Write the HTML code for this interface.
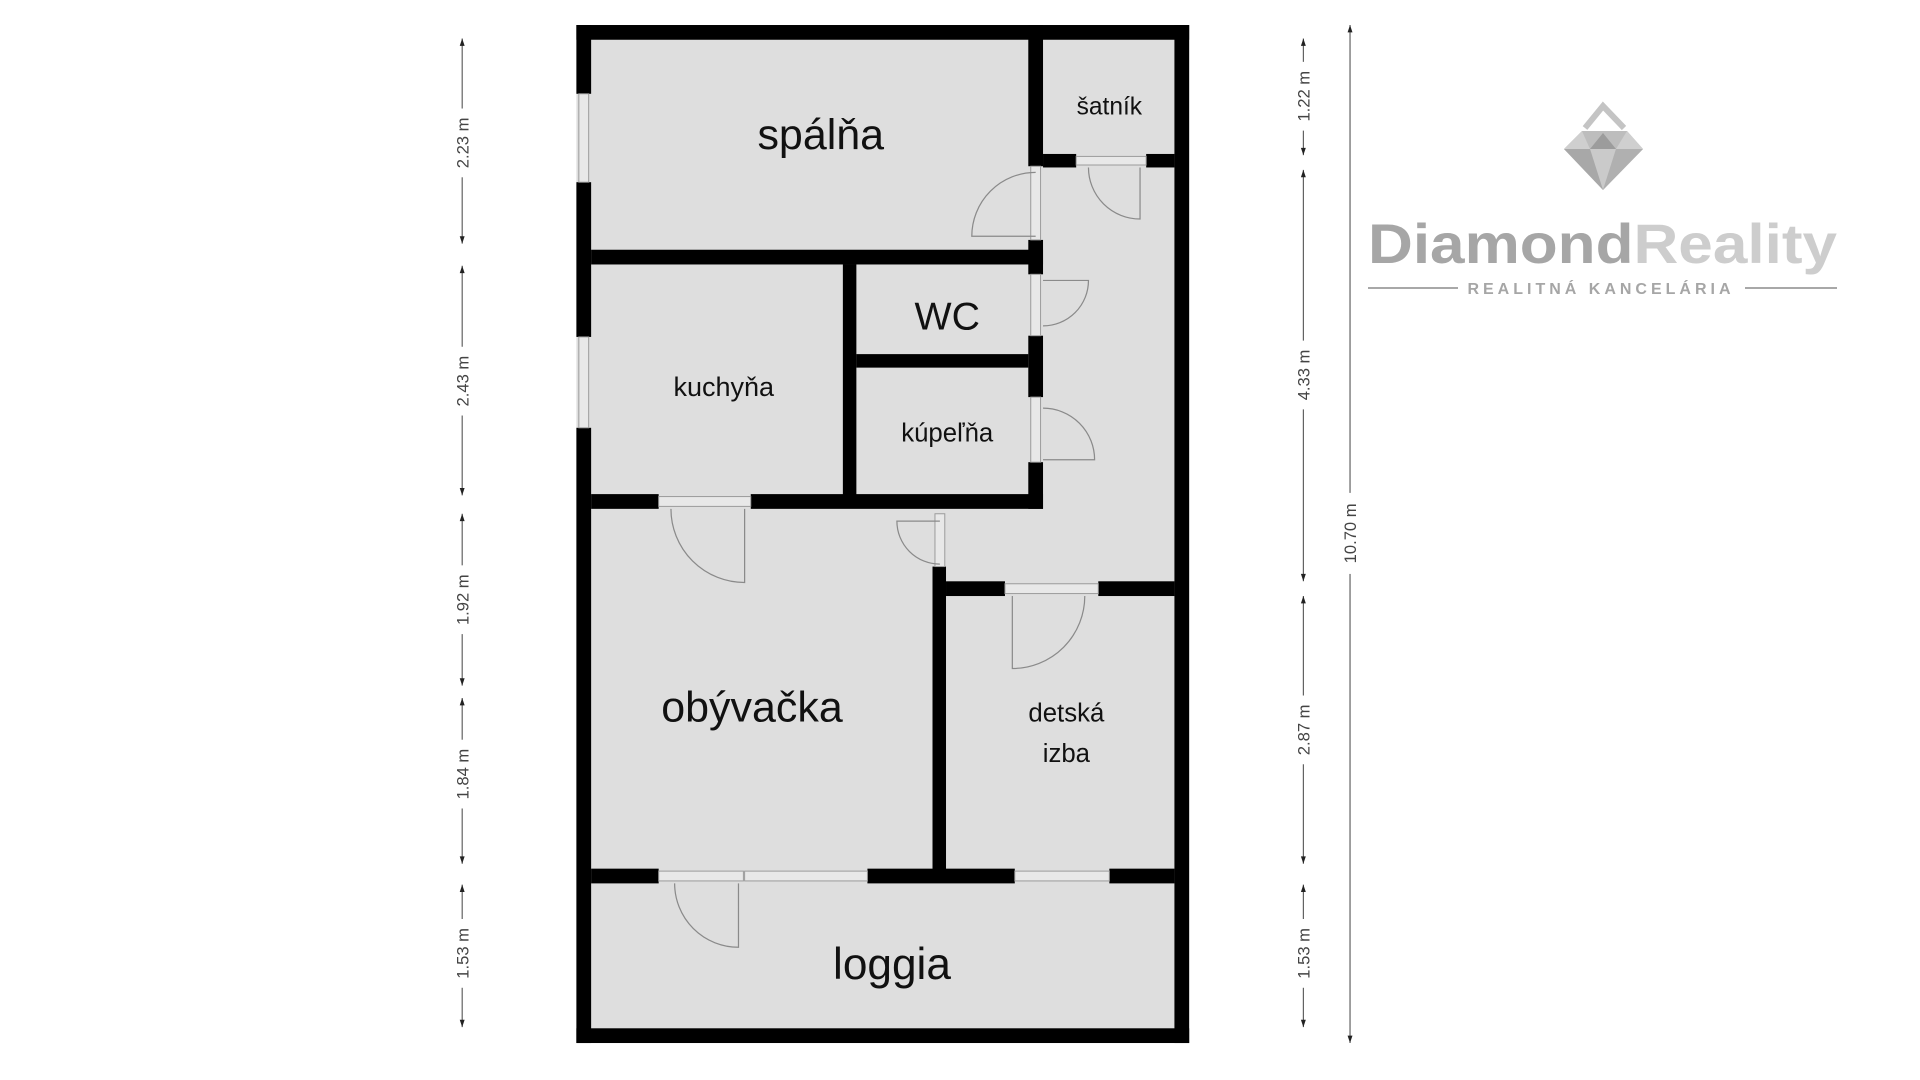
<!DOCTYPE html>
<html><head><meta charset="utf-8"><style>
html,body{margin:0;padding:0;background:#fff;width:1920px;height:1080px;overflow:hidden}
svg{display:block}
</style></head><body>
<svg width="1920" height="1080" viewBox="0 0 1920 1080" xmlns="http://www.w3.org/2000/svg">
<g transform="matrix(1.228,0,0,1.228,-2,-2)">
  <rect x="471" y="22" width="499" height="829" fill="#dedede"/>
  <g fill="#000">
    <rect x="471" y="22" width="499" height="12"/>
    <rect x="471" y="839" width="499" height="12"/>
    <rect x="958" y="22" width="12" height="829"/>
    <rect x="471" y="22" width="12" height="56"/>
    <rect x="471" y="150" width="12" height="126"/>
    <rect x="471" y="350" width="12" height="501"/>
    <rect x="839" y="22" width="12" height="115"/>
    <rect x="839" y="197" width="12" height="28"/>
    <rect x="839" y="275" width="12" height="50"/>
    <rect x="839" y="378" width="12" height="38"/>
    <rect x="851" y="127" width="27" height="11"/>
    <rect x="935" y="127" width="23" height="11"/>
    <rect x="483" y="205" width="368" height="12"/>
    <rect x="688" y="217" width="11" height="195"/>
    <rect x="699" y="290" width="140" height="11"/>
    <rect x="483" y="404" width="55" height="12"/>
    <rect x="613" y="404" width="238" height="12"/>
    <rect x="761" y="463" width="11" height="252"/>
    <rect x="772" y="475" width="48" height="12"/>
    <rect x="896" y="475" width="62" height="12"/>
    <rect x="483" y="709" width="55" height="12"/>
    <rect x="708" y="709" width="120" height="12"/>
    <rect x="905" y="709" width="53" height="12"/>
  </g>
  <g fill="#e8e8e8" stroke="#9a9a9a" stroke-width="0.8">
    <rect x="473" y="78" width="8" height="72"/>
    <rect x="473" y="276" width="8" height="74"/>
    <rect x="608" y="711" width="100" height="8"/>
    <rect x="828" y="711" width="77" height="8"/>
    <rect x="841" y="137" width="8" height="60"/>
    <rect x="841" y="225" width="8" height="50"/>
    <rect x="841" y="325" width="8" height="53"/>
    <rect x="878" y="129" width="57" height="7"/>
    <rect x="538" y="406" width="75" height="8"/>
    <rect x="763" y="420" width="8" height="43"/>
    <rect x="820" y="477" width="76" height="8"/>
    <rect x="538" y="711" width="69" height="8"/>
  </g>
  <g fill="none" stroke="#8a8a8a" stroke-width="1">
    <path d="M845 194 L793 194 A52 52 0 0 1 845 142"/>
    <path d="M930 138 L930 180 A42 42 0 0 1 888 138"/>
    <path d="M851 230 L888 230 A37 37 0 0 1 851 267"/>
    <path d="M851 376 L893 376 A42 42 0 0 0 851 334"/>
    <path d="M608 416 L608 476 A60 60 0 0 1 548 416"/>
    <path d="M767 426 L732 426 A35 35 0 0 0 767 461"/>
    <path d="M826 487 L826 546 A59 59 0 0 0 885 487"/>
    <path d="M603 721 L603 773 A52 52 0 0 1 551 721"/>
  </g>
  <g font-family="'Liberation Sans','DejaVu Sans',sans-serif" fill="#111" text-anchor="middle">
    <text x="670" y="123" font-size="35">spálňa</text>
    <text x="905" y="95" font-size="20">šatník</text>
    <text x="773" y="270" font-size="32">WC</text>
    <text x="591" y="324" font-size="22">kuchyňa</text>
    <text x="773" y="361" font-size="21">kúpeľňa</text>
    <text x="614" y="589" font-size="35">obývačka</text>
    <text x="870" y="589" font-size="21">detská</text>
    <text x="870" y="622" font-size="21">izba</text>
    <text x="728" y="799" font-size="36">loggia</text>
  </g>
  <g stroke="#555" stroke-width="0.9" fill="#222">
    <line x1="378" y1="33" x2="378" y2="200"/><line x1="378" y1="218" x2="378" y2="405"/>
    <line x1="378" y1="420" x2="378" y2="560"/><line x1="378" y1="570" x2="378" y2="705"/>
    <line x1="378" y1="722" x2="378" y2="838"/>
    <line x1="1063" y1="33" x2="1063" y2="128"/><line x1="1063" y1="140" x2="1063" y2="475"/>
    <line x1="1063" y1="487" x2="1063" y2="705"/><line x1="1063" y1="722" x2="1063" y2="838"/>
    <line x1="1101" y1="22" x2="1101" y2="851"/>
  </g>
  <g fill="#222">
    <path d="M376 39 L378 33 L380 39Z M376 194 L378 200 L380 194Z M376 224 L378 218 L380 224Z M376 399 L378 405 L380 399Z M376 426 L378 420 L380 426Z M376 554 L378 560 L380 554Z M376 576 L378 570 L380 576Z M376 699 L378 705 L380 699Z M376 728 L378 722 L380 728Z M376 832 L378 838 L380 832Z"/>
    <path d="M1061 39 L1063 33 L1065 39Z M1061 122 L1063 128 L1065 122Z M1061 146 L1063 140 L1065 146Z M1061 469 L1063 475 L1065 469Z M1061 493 L1063 487 L1065 493Z M1061 699 L1063 705 L1065 699Z M1061 728 L1063 722 L1065 728Z M1061 832 L1063 838 L1065 832Z"/>
    <path d="M1099 28 L1101 22 L1103 28Z M1099 845 L1101 851 L1103 845Z"/>
  </g>
  <g fill="#fff">
    <rect x="371" y="90" width="14" height="56"/><rect x="371" y="284" width="14" height="56"/>
    <rect x="371" y="462" width="14" height="56"/><rect x="371" y="604" width="14" height="56"/>
    <rect x="371" y="750" width="14" height="56"/>
    <rect x="1056" y="52" width="14" height="56"/><rect x="1056" y="279" width="14" height="56"/>
    <rect x="1056" y="568" width="14" height="56"/><rect x="1056" y="750" width="14" height="56"/>
    <rect x="1094" y="403" width="14" height="66"/>
  </g>
  <g font-family="'Liberation Sans',sans-serif" font-size="13.5" fill="#444" text-anchor="middle">
    <text transform="translate(383,118) rotate(-90)">2.23 m</text>
    <text transform="translate(383,312) rotate(-90)">2.43 m</text>
    <text transform="translate(383,490) rotate(-90)">1.92 m</text>
    <text transform="translate(383,632) rotate(-90)">1.84 m</text>
    <text transform="translate(383,778) rotate(-90)">1.53 m</text>
    <text transform="translate(1068,80) rotate(-90)">1.22 m</text>
    <text transform="translate(1068,307) rotate(-90)">4.33 m</text>
    <text transform="translate(1068,596) rotate(-90)">2.87 m</text>
    <text transform="translate(1068,778) rotate(-90)">1.53 m</text>
    <text transform="translate(1106,436) rotate(-90)">10.70 m</text>
  </g>
</g>
<g>
  <path d="M1585 128 L1603 106 L1624 128" fill="none" stroke="#c4c4c4" stroke-width="6"/>
  <polygon points="1582,131 1627,131 1643,149 1603,190 1564,149" fill="#bdbdbd"/>
  <polygon points="1582,131 1564,149 1590,149" fill="#cfcfcf"/>
  <polygon points="1627,131 1643,149 1616,149" fill="#cfcfcf"/>
  <polygon points="1603,133 1590,149 1616,149" fill="#9c9c9c"/>
  <polygon points="1590,149 1616,149 1603,190" fill="#cacaca"/>
  <polygon points="1564,149 1590,149 1603,190" fill="#a8a8a8"/>
  <polygon points="1616,149 1643,149 1603,190" fill="#b0b0b0"/>
</g>
<text x="1368" y="263" font-family="'Liberation Sans',sans-serif" font-weight="bold" font-size="56" textLength="469" lengthAdjust="spacingAndGlyphs"><tspan fill="#a6a6a6">Diamond</tspan><tspan fill="#cdcdcd">Reality</tspan></text>
<line x1="1368" y1="288" x2="1458" y2="288" stroke="#a8a8a8" stroke-width="2"/>
<line x1="1745" y1="288" x2="1837" y2="288" stroke="#a8a8a8" stroke-width="2"/>
<text x="1601" y="294" text-anchor="middle" font-family="'Liberation Sans',sans-serif" font-weight="bold" font-size="16" fill="#a6a6a6" letter-spacing="4">REALITNÁ KANCELÁRIA</text>
</svg>
</body></html>
